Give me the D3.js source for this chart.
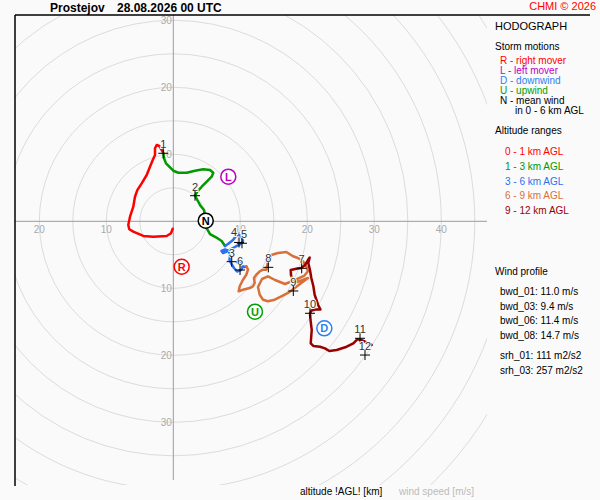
<!DOCTYPE html>
<html><head><meta charset="utf-8">
<script src="https://cdn.jsdelivr.net/npm/d3@7"></script>
<style>
html,body{margin:0;padding:0;background:#fafafa;}
svg{display:block;font-family:"Liberation Sans",Arial,sans-serif;}
</style></head><body>
<div id="chart"></div>
<script>
// ---------- data (wind components u,v in m/s) ----------
const station = "Prostejov";
const runTime = "28.08.2026 00 UTC";
const copyright = "CHMI \u00a9 2026";
const ringSpeeds = [5,10,15,20,25,30,35,40,45,50,55];
const xTickSpeeds = [-20,-10,10,20,30,40];
const yTickSpeeds = [-30,-20,-10,10,20,30];

const layer0_1 = [[-0.09,-1.10],[-0.34,-1.79],[-0.99,-2.19],[-2.99,-2.30],[-4.48,-2.19],[-5.97,-1.55],[-6.57,-1.19],[-6.72,-0.55],[-6.46,0.69],[-5.97,2.18],[-5.72,3.67],[-5.37,4.66],[-4.72,5.67],[-3.97,6.91],[-3.48,8.15],[-3.07,9.15],[-2.73,9.90],[-2.73,10.90],[-2.48,11.39],[-2.09,11.24],[-1.73,10.64],[-1.49,10.15]];
const layer1_3 = [[-1.49,10.15],[-1.39,9.40],[-1.09,8.66],[-0.49,8.06],[0.00,7.55],[0.75,7.25],[2.00,7.25],[3.24,7.55],[4.48,7.76],[5.48,7.66],[5.97,7.25],[5.73,6.66],[4.99,5.91],[4.24,5.16],[3.58,4.42],[3.24,3.82],[3.58,3.18],[4.09,2.28],[4.58,1.69],[4.84,0.19],[4.99,-1.04],[5.48,-1.90],[6.37,-2.39],[7.22,-2.94],[7.72,-3.69]];
const layer3_6 = [[7.72,-3.69],[8.16,-3.39],[8.91,-2.79],[9.36,-2.19],[9.73,-1.97],[10.18,-2.27],[10.40,-2.94],[9.96,-3.46],[9.36,-3.76],[8.76,-4.06],[8.16,-4.43],[7.42,-4.73],[7.19,-4.43],[7.72,-4.21],[8.31,-4.43],[8.46,-5.18],[8.39,-5.78],[8.69,-6.37],[9.06,-6.97],[9.51,-7.49],[10.10,-7.27],[10.40,-6.75],[9.96,-6.22],[9.51,-6.07],[10.10,-6.52],[10.63,-6.82],[10.90,-6.72]];
const layer6_9 = [[10.90,-6.72],[11.15,-7.22],[10.90,-7.97],[10.40,-8.72],[9.91,-9.70],[9.76,-10.45],[10.40,-10.21],[11.40,-9.96],[11.90,-9.70],[12.15,-9.21],[12.04,-8.46],[12.39,-7.97],[12.90,-7.46],[13.39,-7.22],[13.88,-7.22],[14.13,-6.07],[14.63,-5.03],[15.63,-4.73],[16.87,-4.58],[17.87,-5.22],[18.61,-5.48],[19.36,-5.97],[19.85,-6.72],[20.10,-7.46],[19.51,-8.16],[18.16,-8.76],[16.67,-9.36],[15.18,-8.76],[14.13,-8.21],[13.24,-8.61],[12.64,-9.81],[12.90,-10.96],[13.39,-11.70],[14.13,-11.94],[15.13,-11.70],[16.12,-11.19],[17.12,-10.70],[18.12,-9.96],[19.10,-9.21],[20.10,-8.46],[18.91,-8.91],[18.01,-9.21],[17.57,-8.04]];
const layer9_12 = [[17.57,-8.04],[17.52,-7.27],[18.36,-7.07],[19.10,-6.96],[19.70,-6.48],[20.10,-5.78],[20.36,-5.40],[20.15,-6.22],[20.40,-7.27],[20.60,-8.46],[20.90,-9.66],[21.10,-10.96],[21.60,-12.45],[21.97,-13.16],[21.15,-13.16],[20.63,-13.31],[20.40,-13.73],[20.48,-14.73],[20.66,-16.22],[20.51,-18.21],[20.90,-18.61],[21.90,-18.72],[22.64,-18.96],[23.28,-19.36],[24.39,-19.21],[25.88,-18.72],[26.87,-18.21],[27.46,-17.61],[28.12,-17.72],[28.61,-17.97],[29.61,-18.46]];

const layerNames = ["0 - 1 km AGL","1 - 3 km AGL","3 - 6 km AGL","6 - 9 km AGL","9 - 12 km AGL"];
const layerColors = ["#ff0000","#009900","#2f6fef","#d9703a","#990000"];
const layers = [layer0_1, layer1_3, layer3_6, layer6_9, layer9_12];

const kmLabels = ["1","2","3","4","5","6","7","8","9","10","11","12"];
const kmU = [-1.49,3.24,8.72,9.81,10.25,9.96,19.16,14.18,17.91,20.40,27.87,28.61];
const kmV = [10.15,3.82,-6.03,-3.16,-3.28,-7.27,-7.01,-6.87,-10.40,-13.73,-17.46,-19.96];

const stormLetters = ["R","L","D","U","N"];
const stormU = [1.25,8.21,22.54,12.19,4.84];
const stormV = [-6.78,6.66,-15.97,-13.49,0.09];
const stormColors = ["#ff0000","#c000c0","#2f7fef","#00a000","#000000"];
const stormTexts = ["R - right mover","L - left mover","D - downwind","U - upwind","N - mean wind"];

const profileTexts = ["bwd_01: 11.0 m/s","bwd_03: 9.4 m/s","bwd_06: 11.4 m/s","bwd_08: 14.7 m/s","srh_01: 111 m2/s2","srh_03: 257 m2/s2"];

// ---------- drawing ----------
const W = 600, H = 500;
const svg = d3.select("#chart").append("svg").attr("width",W).attr("height",H);
svg.append("rect").attr("width",W).attr("height",H).attr("fill","#fafafa");

const x = d3.scaleLinear().domain([-20,40]).range([39.3,441.3]);
const y = d3.scaleLinear().domain([-30,30]).range([422.3,20.3]);
const cx = x(0), cy = y(0);

const plot = {x0:15, y0:15, x1:487, y1:485};
svg.append("clipPath").attr("id","clip").append("rect")
  .attr("x",plot.x0).attr("y",plot.y0).attr("width",plot.x1-plot.x0).attr("height",plot.y1-plot.y0);
const g = svg.append("g").attr("clip-path","url(#clip)");

g.selectAll("circle.ring").data(ringSpeeds).join("circle").attr("class","ring")
  .attr("cx",cx).attr("cy",cy).attr("r",d=>x(d)-cx)
  .attr("fill","none").attr("stroke","#dcdcdc").attr("stroke-width",1);

g.append("line").attr("x1",plot.x0).attr("x2",plot.x1).attr("y1",cy).attr("y2",cy).attr("stroke","#9a9a9a");
g.append("line").attr("x1",cx).attr("x2",cx).attr("y1",plot.y0).attr("y2",plot.y1-5).attr("stroke","#9a9a9a");

g.selectAll("text.xt").data(xTickSpeeds).join("text").attr("class","xt")
  .attr("x",d=>x(d)).attr("y",cy+12).attr("text-anchor","middle")
  .attr("font-size",10).attr("fill","#aaa").text(d=>Math.abs(d));
g.selectAll("text.yt").data(yTickSpeeds).join("text").attr("class","yt")
  .attr("x",cx-1.5).attr("y",d=>y(d)+4).attr("text-anchor","end")
  .attr("font-size",10).attr("fill","#aaa").text(d=>Math.abs(d));

const line = d3.line().x(d=>x(d[0])).y(d=>y(d[1]));
g.selectAll("path.layer").data(layers).join("path").attr("class","layer")
  .attr("d",line).attr("fill","none").attr("stroke",(d,i)=>layerColors[i])
  .attr("stroke-width",2.5).attr("stroke-linejoin","round").attr("stroke-linecap","round");

// km markers
const km = g.selectAll("g.km").data(kmLabels).join("g").attr("class","km")
  .attr("transform",(d,i)=>`translate(${x(kmU[i])},${y(kmV[i])})`);
km.append("text").attr("x",(d,i)=> i===3?-5:(i===4?2:0)).attr("y",(d,i)=> i===3?-6:-5).attr("text-anchor","middle")
  .attr("font-size",11).attr("fill","#333").attr("stroke","#fafafa").attr("stroke-width",2)
  .attr("paint-order","stroke").text(d=>d);
km.append("path").attr("d","M-5,0H5M0,-5V5").attr("stroke","#000").attr("stroke-width",1);

// storm motions
const sm = g.selectAll("g.sm").data(stormLetters).join("g").attr("class","sm")
  .attr("transform",(d,i)=>`translate(${x(stormU[i])},${y(stormV[i])})`);
sm.append("circle").attr("r",7.5).attr("fill","#fff").attr("stroke",(d,i)=>stormColors[i]).attr("stroke-width",1.5);
sm.append("text").attr("text-anchor","middle").attr("y",4).attr("font-size",11).attr("font-weight","bold")
  .attr("fill",(d,i)=>stormColors[i]).text(d=>d);

// frame
svg.append("line").attr("x1",15).attr("x2",590).attr("y1",15).attr("y2",15).attr("stroke","#000").attr("stroke-width",1.5);
svg.append("line").attr("x1",15).attr("x2",15).attr("y1",15).attr("y2",486).attr("stroke","#000").attr("stroke-width",1.5);

// header
svg.append("text").attr("x",50).attr("y",12).attr("font-size",12).attr("font-weight","bold").text(station);
svg.append("text").attr("x",117).attr("y",12).attr("font-size",12).attr("font-weight","bold").text(runTime);
svg.append("text").attr("x",596).attr("y",10).attr("text-anchor","end").attr("font-size",11).attr("fill","#ff0000").text(copyright);

// legend
const lg = svg.append("g").attr("font-size",10);
lg.append("text").attr("x",495).attr("y",30).attr("font-size",11).text("HODOGRAPH");
lg.append("text").attr("x",495).attr("y",50).text("Storm motions");
lg.selectAll("text.sm").data(stormTexts).join("text").attr("class","sm")
  .attr("x",500).attr("y",(d,i)=>64.3+i*10).attr("fill",(d,i)=>stormColors[i]).text(d=>d);
lg.append("text").attr("x",515).attr("y",114.3).text("in 0 - 6 km AGL");
lg.append("text").attr("x",495).attr("y",134.3).text("Altitude ranges");
lg.selectAll("text.al").data(layerNames).join("text").attr("class","al")
  .attr("x",505).attr("y",(d,i)=>155+i*14.8).attr("fill",(d,i)=>layerColors[i]).text(d=>d);
lg.append("text").attr("x",495).attr("y",275).text("Wind profile");
const profY = [295,309.5,324,338.5,359,373.5];
lg.selectAll("text.wp").data(profileTexts).join("text").attr("class","wp")
  .attr("x",500).attr("y",(d,i)=>profY[i]).text(d=>d);

// bottom
svg.append("text").attr("x",300).attr("y",495).attr("font-size",10).text("altitude !AGL! [km]");
svg.append("text").attr("x",399).attr("y",495).attr("font-size",10).attr("fill","#bbb").text("wind speed [m/s]");
</script>
</body></html>
